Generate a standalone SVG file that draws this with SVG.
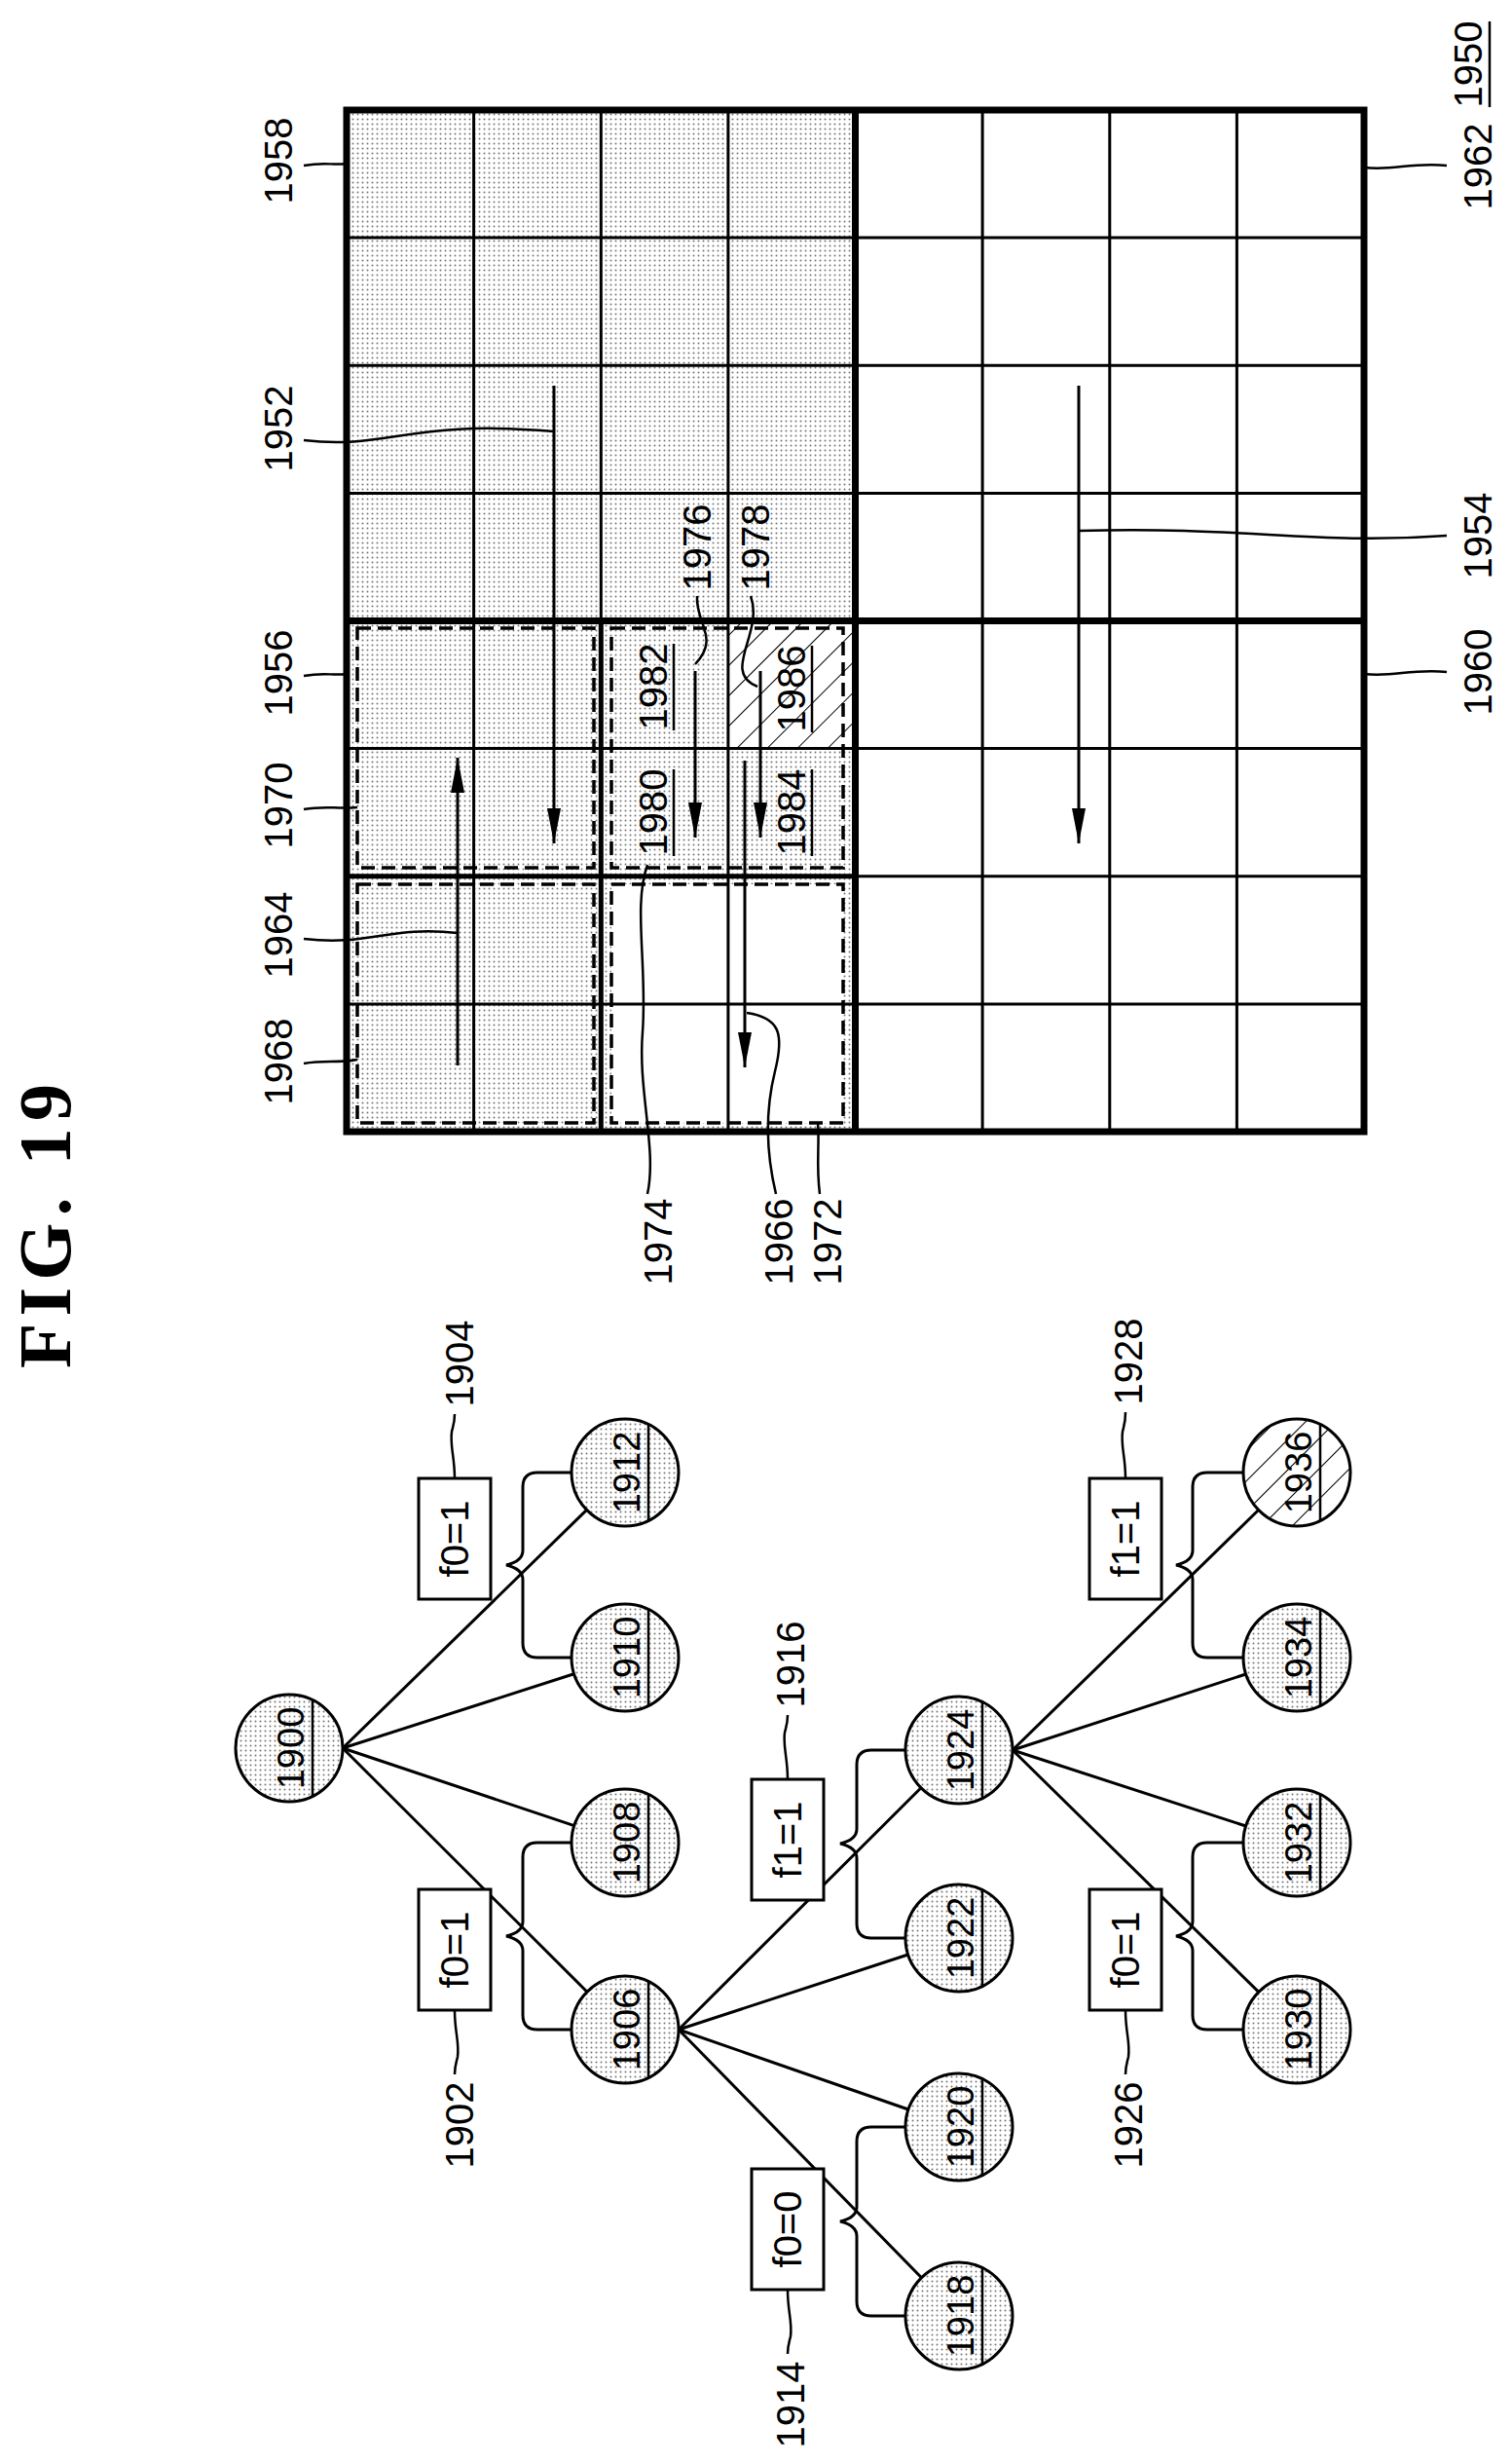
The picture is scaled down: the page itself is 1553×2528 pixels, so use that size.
<svg xmlns="http://www.w3.org/2000/svg" width="1553" height="2528" viewBox="0 0 1553 2528">
<style>
.t{font-family:"Liberation Sans",Arial,sans-serif;font-size:40px;text-anchor:middle;fill:#000}
.c{font-size:38px}
.ln{stroke:#000;stroke-width:2.5;fill:none}
.thin{stroke:#000;stroke-width:3;fill:none}
.thick{stroke:#000;stroke-width:7;fill:none}
.mid{stroke:#000;stroke-width:5;fill:none}
.dash{stroke:#000;stroke-width:3.5;fill:none;stroke-dasharray:14 7}
.arr{stroke:#000;stroke-width:3;fill:none;marker-end:url(#ah)}
.node{stroke:#000;stroke-width:3;fill:url(#dots)}
.box{stroke:#000;stroke-width:3;fill:#fff}
</style>
<defs>
<pattern id="dots" width="5" height="5" patternUnits="userSpaceOnUse"><rect width="5" height="5" fill="#fff"/><circle cx="2.5" cy="2.5" r="1" fill="#777"/></pattern>
<pattern id="hatch" width="22" height="22" patternUnits="userSpaceOnUse" patternTransform="rotate(45)"><rect width="22" height="22" fill="#fff"/><line x1="0" y1="0" x2="0" y2="22" stroke="#000" stroke-width="2"/></pattern>
<marker id="ah" markerUnits="userSpaceOnUse" markerWidth="40" markerHeight="20" refX="36" refY="9" orient="auto"><path d="M0,2 L36,9 L0,16 Z" fill="#000"/></marker>
</defs>
<rect width="1553" height="2528" fill="#fff"/>
<text x="0" y="0" transform="translate(72,1259) rotate(-90)" style="font-family:'Liberation Serif','Times New Roman',serif;font-weight:bold;font-size:76px;text-anchor:middle" textLength="292">FIG. 19</text>

<g id="grid">
<rect x="356" y="113" width="522" height="1049" fill="url(#dots)"/>
<rect x="747.9" y="637.5" width="130.6" height="131.1" fill="url(#hatch)"/>
<rect x="628" y="908" width="238" height="245" fill="#fff"/>
<g class="thin">
<line x1="486.6" y1="113" x2="486.6" y2="1162"/><line x1="617.3" y1="113" x2="617.3" y2="637"/><line x1="747.9" y1="113" x2="747.9" y2="1162"/>
<line x1="1009.1" y1="113" x2="1009.1" y2="1162"/><line x1="1139.8" y1="113" x2="1139.8" y2="1162"/><line x1="1270.4" y1="113" x2="1270.4" y2="1162"/>
<line x1="356" y1="244.1" x2="1401" y2="244.1"/><line x1="356" y1="375.3" x2="1401" y2="375.3"/><line x1="356" y1="506.4" x2="1401" y2="506.4"/>
<line x1="356" y1="768.6" x2="1401" y2="768.6"/><line x1="878" y1="899.8" x2="1401" y2="899.8"/><line x1="356" y1="1030.9" x2="1401" y2="1030.9"/>
</g>
<line class="mid" x1="617.3" y1="637" x2="617.3" y2="1162"/>
<line class="mid" x1="356" y1="899.8" x2="878" y2="899.8"/>
<line class="thick" x1="878.5" y1="113" x2="878.5" y2="1162"/>
<line class="thick" x1="356" y1="637.5" x2="1401" y2="637.5"/>
<rect class="thick" x="356" y="113" width="1045" height="1049"/>
</g>
<g id="dashed">
<rect class="dash" x="367" y="645" width="243" height="246"/>
<rect class="dash" x="367" y="908" width="243" height="245"/>
<rect class="dash" x="628" y="645" width="238" height="246"/>
<rect class="dash" x="628" y="908" width="238" height="245"/>
</g>
<g id="inner-labels">
<text class="t" transform="translate(685,834) rotate(-90)">1980</text><line class="ln" x1="692" y1="790" x2="692" y2="879"/>
<text class="t" transform="translate(685,705) rotate(-90)">1982</text><line class="ln" x1="692" y1="661" x2="692" y2="750"/>
<text class="t" transform="translate(827,834) rotate(-90)">1984</text><line class="ln" x1="834" y1="790" x2="834" y2="879"/>
<text class="t" transform="translate(827,707) rotate(-90)">1986</text><line class="ln" x1="834" y1="663" x2="834" y2="752"/>
</g>
<g id="arrows">
<line class="arr" x1="569" y1="396" x2="569" y2="866"/>
<line class="arr" x1="1108" y1="396" x2="1108" y2="866"/>
<line class="arr" x1="470" y1="1094" x2="470" y2="778"/>
<line class="arr" x1="714" y1="689" x2="714" y2="860"/>
<line class="arr" x1="781" y1="689" x2="781" y2="860"/>
<line class="arr" x1="765" y1="781" x2="765" y2="1096"/>
</g>
<g id="grid-labels">
<text class="t" transform="translate(300,165) rotate(-90)">1958</text>
<text class="t" transform="translate(300,440) rotate(-90)">1952</text>
<text class="t" transform="translate(300,691) rotate(-90)">1956</text>
<text class="t" transform="translate(300,827) rotate(-90)">1970</text>
<text class="t" transform="translate(300,960) rotate(-90)">1964</text>
<text class="t" transform="translate(300,1090) rotate(-90)">1968</text>
<text class="t" transform="translate(1532,171) rotate(-90)">1962</text>
<text class="t" transform="translate(1532,550) rotate(-90)">1954</text>
<text class="t" transform="translate(1532,690) rotate(-90)">1960</text>
<text class="t" transform="translate(1522,66) rotate(-90)">1950</text><line class="ln" x1="1530" y1="22" x2="1530" y2="110"/>
<text class="t" transform="translate(730,562) rotate(-90)">1976</text>
<text class="t" transform="translate(790,562) rotate(-90)">1978</text>
<text class="t" transform="translate(690,1275) rotate(-90)">1974</text>
<text class="t" transform="translate(814,1275) rotate(-90)">1966</text>
<text class="t" transform="translate(864,1275) rotate(-90)">1972</text>
</g>
<g id="grid-leaders" class="ln">
<path d="M312,170 C335,166 340,170 356,168"/>
<path d="M312,452 C400,462 420,430 569,443"/>
<path d="M312,694 C335,690 340,694 356,692"/>
<path d="M312,831 C335,827 345,831 367,829"/>
<path d="M312,964 C380,972 400,950 470,958"/>
<path d="M312,1092 C335,1088 345,1092 367,1088"/>
<path d="M1486,170 C1450,166 1430,176 1401,172"/>
<path d="M1486,550 C1350,560 1280,540 1108,545"/>
<path d="M1486,690 C1450,686 1430,696 1401,692"/>
<path d="M716,612 C714,640 740,655 714,682"/>
<path d="M771,612 C785,650 740,690 778,705"/>
<path d="M665,1226 C675,1180 655,1120 660,1060 C665,990 650,930 665,888"/>
<path d="M797,1226 C786,1180 786,1140 796,1100 C806,1060 800,1045 767,1040"/>
<path d="M842,1226 C838,1195 842,1175 840,1153"/>
</g>

<g id="edges" class="thin">
<line x1="352" y1="1795" x2="602.6" y2="1550.4"/><line x1="352" y1="1795" x2="589.6" y2="1718.8"/>
<line x1="352" y1="1795" x2="589.8" y2="1874.6"/><line x1="352" y1="1795" x2="603" y2="2045.2"/>
<line x1="697" y1="2084" x2="946" y2="1835.8"/><line x1="697" y1="2084" x2="932.7" y2="2007"/>
<line x1="697" y1="2084" x2="933" y2="2166"/><line x1="697" y1="2084" x2="946.5" y2="2338.7"/>
<line x1="1040" y1="1797" x2="1292.6" y2="1550.5"/><line x1="1040" y1="1797" x2="1279.7" y2="1719"/>
<line x1="1040" y1="1797" x2="1279.7" y2="1875"/><line x1="1040" y1="1797" x2="1292.8" y2="2045.4"/>
</g>
<g id="braces" class="thin">
<path d="M587,1512 H552 Q537,1512 537,1527 V1592 Q537,1603 520,1607 Q537,1611 537,1622 V1687 Q537,1702 552,1702 H587"/>
<path d="M587,1892 H552 Q537,1892 537,1907 V1973 Q537,1984 520,1988 Q537,1992 537,2003 V2069 Q537,2084 552,2084 H587"/>
<path d="M930,1797 H895 Q880,1797 880,1812 V1878 Q880,1889 863,1893 Q880,1897 880,1908 V1975 Q880,1990 895,1990 H930"/>
<path d="M930,2184 H895 Q880,2184 880,2199 V2266 Q880,2277 863,2281 Q880,2285 880,2296 V2363 Q880,2378 895,2378 H930"/>
<path d="M1277,1512 H1240 Q1225,1512 1225,1527 V1592 Q1225,1603 1208,1607 Q1225,1611 1225,1622 V1687 Q1225,1702 1240,1702 H1277"/>
<path d="M1277,1892 H1240 Q1225,1892 1225,1907 V1973 Q1225,1984 1208,1988 Q1225,1992 1225,2003 V2069 Q1225,2084 1240,2084 H1277"/>
</g>
<g id="n1900"><circle class="node" cx="297" cy="1795" r="55"/><text class="t c" transform="translate(312,1795) rotate(-90)">1900</text><line class="ln" x1="321" y1="1745.5" x2="321" y2="1844.5"/></g>
<g id="n1912"><circle class="node" cx="642" cy="1512" r="55"/><text class="t c" transform="translate(657,1512) rotate(-90)">1912</text><line class="ln" x1="666" y1="1462.5" x2="666" y2="1561.5"/></g>
<g id="n1910"><circle class="node" cx="642" cy="1702" r="55"/><text class="t c" transform="translate(657,1702) rotate(-90)">1910</text><line class="ln" x1="666" y1="1652.5" x2="666" y2="1751.5"/></g>
<g id="n1908"><circle class="node" cx="642" cy="1892" r="55"/><text class="t c" transform="translate(657,1892) rotate(-90)">1908</text><line class="ln" x1="666" y1="1842.5" x2="666" y2="1941.5"/></g>
<g id="n1906"><circle class="node" cx="642" cy="2084" r="55"/><text class="t c" transform="translate(657,2084) rotate(-90)">1906</text><line class="ln" x1="666" y1="2034.5" x2="666" y2="2133.5"/></g>
<g id="n1924"><circle class="node" cx="985" cy="1797" r="55"/><text class="t c" transform="translate(1000,1797) rotate(-90)">1924</text><line class="ln" x1="1009" y1="1747.5" x2="1009" y2="1846.5"/></g>
<g id="n1922"><circle class="node" cx="985" cy="1990" r="55"/><text class="t c" transform="translate(1000,1990) rotate(-90)">1922</text><line class="ln" x1="1009" y1="1940.5" x2="1009" y2="2039.5"/></g>
<g id="n1920"><circle class="node" cx="985" cy="2184" r="55"/><text class="t c" transform="translate(1000,2184) rotate(-90)">1920</text><line class="ln" x1="1009" y1="2134.5" x2="1009" y2="2233.5"/></g>
<g id="n1918"><circle class="node" cx="985" cy="2378" r="55"/><text class="t c" transform="translate(1000,2378) rotate(-90)">1918</text><line class="ln" x1="1009" y1="2328.5" x2="1009" y2="2427.5"/></g>
<g id="n1936"><circle cx="1332" cy="1512" r="55" stroke="#000" stroke-width="3" fill="url(#hatch)"/><text class="t c" transform="translate(1347,1512) rotate(-90)">1936</text><line class="ln" x1="1356" y1="1462.5" x2="1356" y2="1561.5"/></g>
<g id="n1934"><circle class="node" cx="1332" cy="1702" r="55"/><text class="t c" transform="translate(1347,1702) rotate(-90)">1934</text><line class="ln" x1="1356" y1="1652.5" x2="1356" y2="1751.5"/></g>
<g id="n1932"><circle class="node" cx="1332" cy="1892" r="55"/><text class="t c" transform="translate(1347,1892) rotate(-90)">1932</text><line class="ln" x1="1356" y1="1842.5" x2="1356" y2="1941.5"/></g>
<g id="n1930"><circle class="node" cx="1332" cy="2084" r="55"/><text class="t c" transform="translate(1347,2084) rotate(-90)">1930</text><line class="ln" x1="1356" y1="2034.5" x2="1356" y2="2133.5"/></g>

<g id="b1904"><rect class="box" x="430" y="1518" width="74" height="124"/><text class="t" transform="translate(481,1580) rotate(-90)">f0=1</text></g>
<g id="b1902"><rect class="box" x="430" y="1940" width="74" height="124"/><text class="t" transform="translate(481,2002) rotate(-90)">f0=1</text></g>
<g id="b1916"><rect class="box" x="772" y="1827" width="74" height="124"/><text class="t" transform="translate(823,1889) rotate(-90)">f1=1</text></g>
<g id="b1914"><rect class="box" x="772" y="2227" width="74" height="124"/><text class="t" transform="translate(823,2289) rotate(-90)">f0=0</text></g>
<g id="b1928"><rect class="box" x="1119" y="1518" width="74" height="124"/><text class="t" transform="translate(1170,1580) rotate(-90)">f1=1</text></g>
<g id="b1926"><rect class="box" x="1119" y="1940" width="74" height="124"/><text class="t" transform="translate(1170,2002) rotate(-90)">f0=1</text></g>

<g id="tree-labels">
<text class="t" transform="translate(486,1400) rotate(-90)">1904</text>
<text class="t" transform="translate(486,2182) rotate(-90)">1902</text>
<text class="t" transform="translate(826,1709) rotate(-90)">1916</text>
<text class="t" transform="translate(826,2469) rotate(-90)">1914</text>
<text class="t" transform="translate(1173,1398) rotate(-90)">1928</text>
<text class="t" transform="translate(1173,2182) rotate(-90)">1926</text>
</g>
<g id="tree-leaders" class="ln">
<path d="M467,1518 C467,1495 462,1485 464,1470 C466,1462 467,1460 467,1452"/>
<path d="M467,2064 C467,2087 472,2097 470,2112 C468,2120 467,2122 467,2130"/>
<path d="M809,1827 C809,1804 804,1794 806,1779 C808,1771 809,1769 809,1761"/>
<path d="M809,2351 C809,2374 814,2384 812,2399 C810,2407 809,2409 809,2417"/>
<path d="M1156,1518 C1156,1495 1151,1485 1153,1470 C1155,1462 1156,1460 1156,1450"/>
<path d="M1156,2064 C1156,2087 1161,2097 1159,2112 C1157,2120 1156,2122 1156,2130"/>
</g>
</svg>
